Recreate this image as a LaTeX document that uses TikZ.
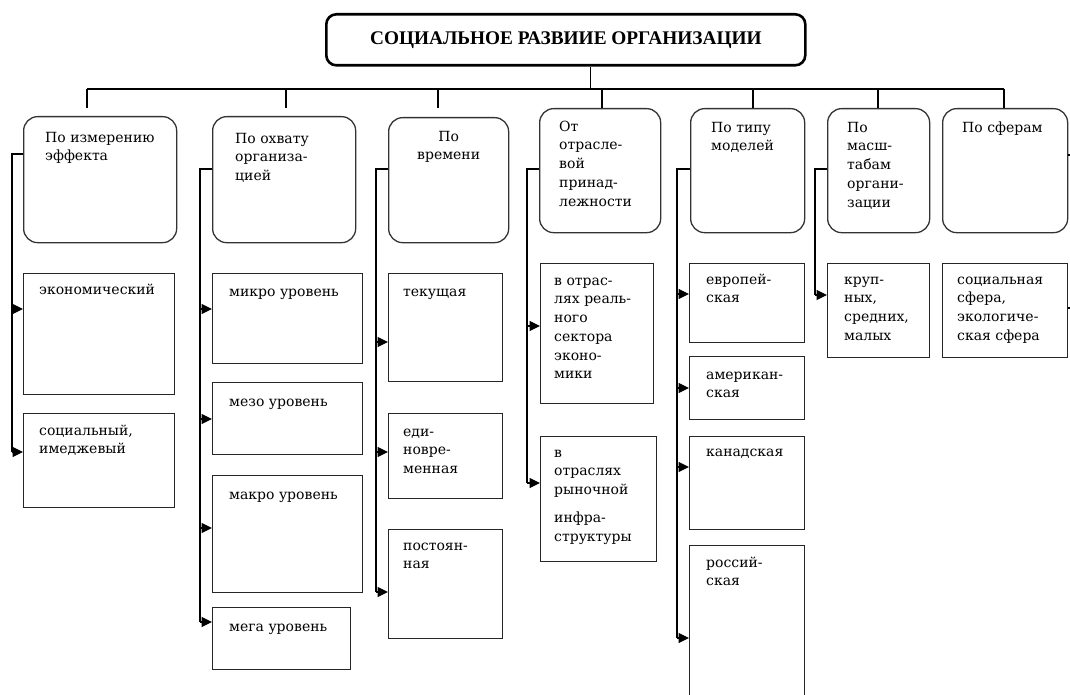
\documentclass[tikz,border=0pt]{standalone}
\usepackage{fontspec}
\setmainfont{DejaVu Serif}
\newfontfamily\titlefont{Liberation Serif}
\usetikzlibrary{arrows.meta}
\newcommand{\tp}{\rule{0pt}{11pt}}
\begin{document}
\begin{tikzpicture}[x=1pt,y=1pt,
  rbox/.style={draw=black!80, line width=1.3pt, rounded corners=14pt, anchor=north west, inner sep=0pt},
  sbox/.style={draw=black!85, line width=1.3pt, anchor=north west, inner sep=0pt},
  lbl/.style={anchor=north west, inner sep=0pt, align=left, font=\fontsize{14}{18.75}\selectfont},
  conn/.style={line width=1.2pt, black},
  arr/.style={conn, -{Triangle[length=10.5pt,width=10pt]}},
]
\useasboundingbox (0,0) rectangle (1070,-695);
\clip (0,0) rectangle (1070,-695);

% title
\node[draw, line width=2.6pt, rounded corners=10pt, minimum width=479pt, minimum height=51pt,
      anchor=north west, inner sep=0pt,
      font=\titlefont\fontsize{19.3}{21}\selectfont\bfseries] (title) at (325,-13)
      {СОЦИАЛЬНОЕ РАЗВИИЕ ОРГАНИЗАЦИИ};

% bus
\coordinate (busL) at (87,-89);
\coordinate (busR) at (1004,-89);
\draw[conn] ([xshift=24.5pt]title.south) -- ([xshift=24.5pt]title.south |- busL);
\draw[conn] (busL) -- (busR);

% first level boxes
\node[rbox, minimum width=153pt, minimum height=126pt] (b1) at (23,-116) {};
\node[rbox, minimum width=143pt, minimum height=126pt] (b2) at (212,-116) {};
\node[rbox, minimum width=120pt, minimum height=125pt] (b3) at (388,-117) {};
\node[rbox, minimum width=121pt, minimum height=124pt] (b4) at (539,-108) {};
\node[rbox, minimum width=114pt, minimum height=124pt] (b5) at (690,-108) {};
\node[rbox, minimum width=102pt, minimum height=124pt] (b6) at (827,-108) {};
\node[rbox, minimum width=125pt, minimum height=124pt] (b7) at (942,-108) {};

\node[lbl] (t1) at ([shift={(22,-15)}]b1.north west) {\tp По измерению\\эффекта};
\node[lbl] (t2) at ([shift={(23,-16)}]b2.north west) {\tp По охвату\\организа-\\цией};
\node[lbl, anchor=north, align=center] (t3) at ([yshift=-13pt]b3.north) {\tp По\\времени};
\node[lbl] (t4) at ([shift={(20,-12)}]b4.north west) {\tp От\\отрасле-\\вой\\принад-\\лежности};
\node[lbl] (t5) at ([shift={(21,-13)}]b5.north west) {\tp По типу\\моделей};
\node[lbl] (t6) at ([shift={(20,-13)}]b6.north west) {\tp По\\масш-\\табам\\органи-\\зации};
\node[lbl] (t7) at ([shift={(20,-13)}]b7.north west) {\tp По сферам};

% ticks
\coordinate (tk1) at (87,-89);
\coordinate (tk2) at (286,-89);
\coordinate (tk3) at (438,-89);
\coordinate (tk4) at (602,-89);
\coordinate (tk5) at (753,-89);
\coordinate (tk6) at (878,-89);
\coordinate (tk7) at (1004,-89);
\draw[conn] (tk1) -- ++(0,-19);
\draw[conn] (tk2) -- ++(0,-19);
\draw[conn] (tk3) -- ++(0,-19);
\draw[conn] (tk4) -- (tk4 |- b4.north);
\draw[conn] (tk5) -- (tk5 |- b5.north);
\draw[conn] (tk6) -- (tk6 |- b6.north);
\draw[conn] (tk7) -- (tk7 |- b7.north);

% second level boxes
\node[sbox, minimum width=151pt, minimum height=121pt] (k11) at (23,-273) {};
\node[sbox, minimum width=151pt, minimum height=94pt]  (k12) at (23,-413) {};
\node[sbox, minimum width=150pt, minimum height=90pt]  (k21) at (212,-273) {};
\node[sbox, minimum width=150pt, minimum height=72pt]  (k22) at (212,-382) {};
\node[sbox, minimum width=150pt, minimum height=117pt] (k23) at (212,-475) {};
\node[sbox, minimum width=138pt, minimum height=62pt]  (k24) at (212,-607) {};
\node[sbox, minimum width=114pt, minimum height=108pt] (k31) at (388,-273) {};
\node[sbox, minimum width=114pt, minimum height=85pt]  (k32) at (388,-413) {};
\node[sbox, minimum width=114pt, minimum height=109pt] (k33) at (388,-529) {};
\node[sbox, minimum width=113pt, minimum height=140pt] (k41) at (540,-263) {};
\node[sbox, minimum width=116pt, minimum height=125pt] (k42) at (540,-436) {};
\node[sbox, minimum width=115pt, minimum height=79pt]  (k51) at (689,-263) {};
\node[sbox, minimum width=115pt, minimum height=63pt]  (k52) at (689,-356) {};
\node[sbox, minimum width=115pt, minimum height=93pt]  (k53) at (689,-436) {};
\node[sbox, minimum width=115pt, minimum height=170pt] (k54) at (689,-545) {};
\node[sbox, minimum width=102pt, minimum height=94pt]  (k61) at (827,-263) {};
\node[sbox, minimum width=125pt, minimum height=94pt]  (k71) at (942,-263) {};

\node[lbl] (u11) at ([shift={(16,-10)}]k11.north west) {\tp экономический};
\node[lbl] (u12) at ([shift={(16,-11)}]k12.north west) {\tp социальный,\\имеджевый};
\node[lbl] (u21) at ([shift={(17,-12)}]k21.north west) {\tp микро уровень};
\node[lbl] (u22) at ([shift={(17,-13)}]k22.north west) {\tp мезо уровень};
\node[lbl] (u23) at ([shift={(17,-13)}]k23.north west) {\tp макро уровень};
\node[lbl] (u24) at ([shift={(17,-13)}]k24.north west) {\tp мега уровень};
\node[lbl] (u31) at ([shift={(15,-12)}]k31.north west) {\tp текущая};
\node[lbl] (u32) at ([shift={(15,-12)}]k32.north west) {\tp еди-\\новре-\\менная};
\node[lbl] (u33) at ([shift={(15,-10)}]k33.north west) {\tp постоян-\\ная};
\node[lbl] (u41) at ([shift={(14,-11)}]k41.north west) {\tp в отрас-\\лях реаль-\\ного\\сектора\\эконо-\\мики};
\node[lbl] (u42) at ([shift={(14,-10)}]k42.north west) {\tp в\\отраслях\\рыночной\\[9pt]инфра-\\структуры};
\node[lbl] (u51) at ([shift={(17,-10)}]k51.north west) {\tp европей-\\ская};
\node[lbl] (u52) at ([shift={(17,-12)}]k52.north west) {\tp американ-\\ская};
\node[lbl] (u53) at ([shift={(17,-9)}]k53.north west) {\tp канадская};
\node[lbl] (u54) at ([shift={(17,-11)}]k54.north west) {\tp россий-\\ская};
\node[lbl] (u61) at ([shift={(17,-10)}]k61.north west) {\tp круп-\\ных,\\средних,\\малых};
\node[lbl] (u71) at ([shift={(15,-10)}]k71.north west) {\tp социальная\\сфера,\\экологиче-\\ская сфера};

% spines
\coordinate (s1) at (12,0);
\coordinate (s2) at (200,0);
\coordinate (s3) at (376,0);
\coordinate (s4) at (527,0);
\coordinate (s5) at (677,0);
\coordinate (s6) at (815,0);

% arrow targets
\coordinate (a11) at (k11.west |- 0,-309);
\coordinate (a12) at (k12.west |- 0,-452);
\coordinate (a21) at (k21.west |- 0,-309);
\coordinate (a22) at (k22.west |- 0,-419);
\coordinate (a23) at (k23.west |- 0,-528);
\coordinate (a24) at (k24.west |- 0,-622);
\coordinate (a31) at (k31.west |- 0,-342);
\coordinate (a32) at (k32.west |- 0,-452);
\coordinate (a33) at (k33.west |- 0,-592);
\coordinate (a41) at (k41.west |- 0,-326);
\coordinate (a42) at (k42.west |- 0,-483);
\coordinate (a51) at (k51.west |- 0,-294);
\coordinate (a52) at (k52.west |- 0,-388);
\coordinate (a53) at (k53.west |- 0,-467);
\coordinate (a54) at (k54.west |- 0,-638);
\coordinate (a61) at (k61.west |- 0,-295);

\draw[conn] ([yshift=-38pt]b1.north west) -| (s1 |- a12);
\draw[conn] ([yshift=-53pt]b2.north west) -| (s2 |- a24);
\draw[conn] ([yshift=-52pt]b3.north west) -| (s3 |- a33);
\draw[conn] ([yshift=-61pt]b4.north west) -| (s4 |- a42);
\draw[conn] ([yshift=-61pt]b5.north west) -| (s5 |- a54);
\draw[conn] ([yshift=-61pt]b6.north west) -| (s6 |- a61);

\foreach \c/\a in {s1/a11, s1/a12, s2/a21, s2/a22, s2/a23, s2/a24, s3/a31, s3/a32, s3/a33,
                   s4/a41, s4/a42, s5/a51, s5/a52, s5/a53, s5/a54, s6/a61}
  \draw[arr] (\c |- \a) -- (\a);

% column 7 stubs leaving the picture
\coordinate (e7) at (1080,0);
\coordinate (r7) at ([yshift=-47pt]b7.north east);
\coordinate (r71) at ([yshift=-45pt]k71.north east);
\draw[conn] (r7) -- (e7 |- r7);
\draw[conn] (r71) -- (e7 |- r71);
\end{tikzpicture}
\end{document}
